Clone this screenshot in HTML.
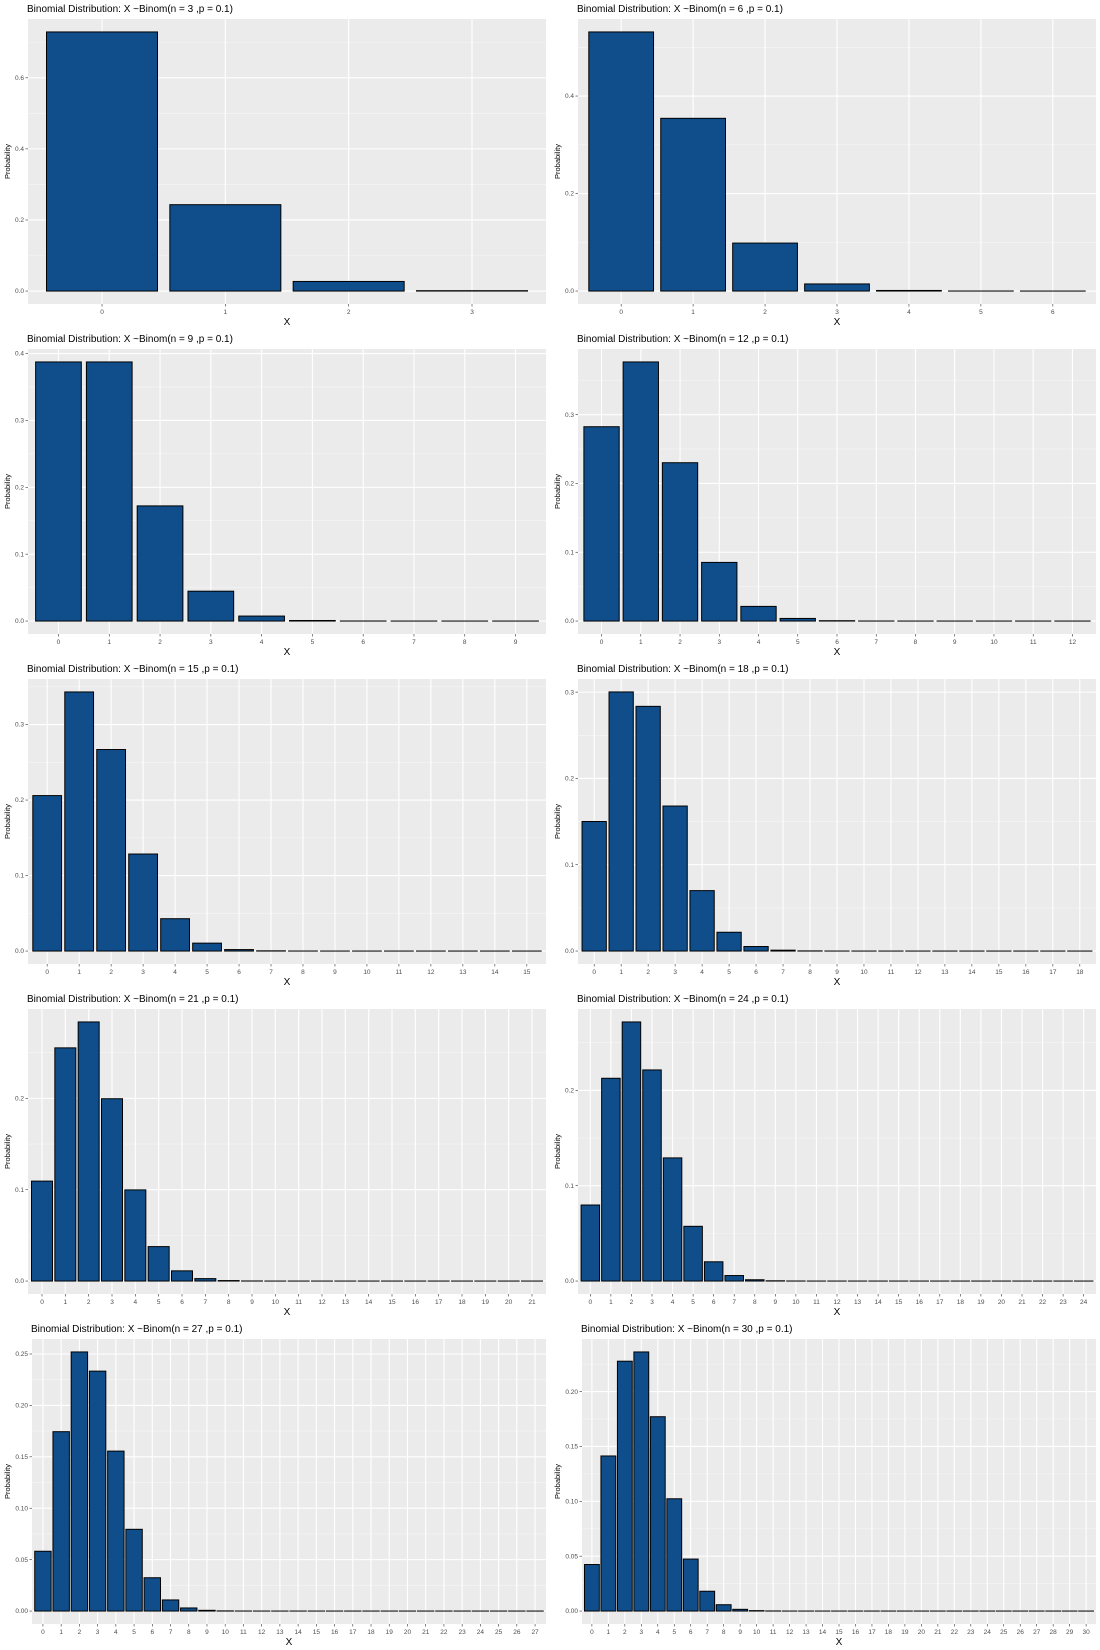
<!DOCTYPE html>
<html><head><meta charset="utf-8"><style>
html,body{margin:0;padding:0;background:#fff;}
svg{display:block;font-family:"Liberation Sans",sans-serif;}
</style></head><body>
<svg id="root" width="1100" height="1650" viewBox="0 0 1100 1650" xmlns="http://www.w3.org/2000/svg"></svg>
<script>
const nValues = [3, 6, 9, 12, 15, 18, 21, 24, 27, 30];
const p3 = [0.729, 0.243, 0.027, 0.001];
const p6 = [0.531441, 0.354294, 0.098415, 0.01458, 0.001215, 0.000054, 0.000001];
const p9 = [0.387420, 0.387420, 0.172187, 0.044641, 0.007440, 0.000827, 0.0000612, 0, 0, 0];
const p12 = [0.282430, 0.376573, 0.230128, 0.085232, 0.021308, 0.003788, 0.000491, 0.0000468, 0, 0, 0, 0, 0];
const p15 = [0.205891, 0.343152, 0.266896, 0.128505, 0.042835, 0.010471, 0.001939, 0.000277, 0.0000308, 0, 0, 0, 0, 0, 0, 0];
const p18 = [0.150095, 0.300189, 0.283512, 0.168007, 0.070003, 0.021779, 0.005243, 0.000999, 0.000153, 0.0000188, 0, 0, 0, 0, 0, 0, 0, 0, 0];
const p21 = [0.109419, 0.255311, 0.283680, 0.199627, 0.099813, 0.037707, 0.011172, 0.002660, 0.000517, 0.0000830, 0, 0, 0, 0, 0, 0, 0, 0, 0, 0, 0, 0];
const p24 = [0.079766, 0.212711, 0.271797, 0.221464, 0.129188, 0.057417, 0.020202, 0.005772, 0.001363, 0.000269, 0.0000449, 0, 0, 0, 0, 0, 0, 0, 0, 0, 0, 0, 0, 0, 0];
const p27 = [0.058150, 0.174450, 0.251983, 0.233316, 0.155544, 0.079500, 0.032389, 0.010796, 0.002999, 0.000703, 0.000141, 0.0000242, 0, 0, 0, 0, 0, 0, 0, 0, 0, 0, 0, 0, 0, 0, 0, 0];
const p30 = [0.042391, 0.141304, 0.227656, 0.236088, 0.177066, 0.102305, 0.047363, 0.018043, 0.005764, 0.001565, 0.000365, 0.0000738, 0, 0, 0, 0, 0, 0, 0, 0, 0, 0, 0, 0, 0, 0, 0, 0, 0, 0, 0];
const tick01 = ["0.0", "0.2", "0.4", "0.6"];
const tick02 = ["0.0", "0.2", "0.4"];
const tick03 = ["0.0", "0.1", "0.2", "0.3", "0.4"];
const tick04 = ["0.0", "0.1", "0.2", "0.3"];
const tick05 = ["0.0", "0.1", "0.2"];
const tick06 = ["0.00", "0.05", "0.10", "0.15", "0.20", "0.25"];
const tick07 = ["0.00", "0.05", "0.10", "0.15", "0.20"];

const probs = [p3, p6, p9, p12, p15, p18, p21, p24, p27, p30];
const ticks = [tick01, tick02, tick03, tick04, tick04, tick04, tick05, tick05, tick06, tick07];

const NS = "http://www.w3.org/2000/svg";
const root = document.getElementById('root');
function mk(tag, attrs, parent) {
  const e = document.createElementNS(NS, tag);
  for (const k in attrs) e.setAttribute(k, attrs[k]);
  parent.appendChild(e);
  return e;
}

nValues.forEach((n, idx) => {
  const data = probs[idx];
  const tk = ticks[idx];
  const col = idx % 2, row = Math.floor(idx / 2);
  const x0 = col * 550, y0 = row * 330;
  const wide = tk[0].length > 3;
  const L = x0 + (wide ? 32 : 28), R = x0 + 546, T = y0 + 19, B = y0 + 304;
  const g = mk('g', {}, root);
  
  

  const maxV = Math.max(...data);
  const lo = -0.05 * maxV, hi = 1.05 * maxV;
  const ys = v => B - (v - lo) / (hi - lo) * (B - T);
  const k = data.length;
  const xs = i => L + (i + 1 - 0.4) / (k + 0.2) * (R - L);
  const unit = (R - L) / (k + 0.2);

  const bg = mk('rect', {x: L, y: T, width: R - L, height: B - T, fill: '#EBEBEB'}, g);
  
  

  const step = parseFloat(tk[1]) - parseFloat(tk[0]);
  for (let j = 0; j < tk.length; j++) {
    const v = parseFloat(tk[j]) + step / 2;
    const yy = ys(v);
    if (yy > T) mk('line', {x1: L, x2: R, y1: yy, y2: yy, stroke: '#F6F6F6', 'stroke-width': 0.6}, g);
  }
  tk.forEach(t => {
    const yy = ys(parseFloat(t));
    const gl = mk('line', {x1: L, x2: R, y1: yy, y2: yy, stroke: '#fff', 'stroke-width': 1.1}, g);
    
    
    mk('line', {x1: L - 2.5, x2: L, y1: yy, y2: yy, stroke: '#333', 'stroke-width': 0.6}, g);
    const tl = mk('text', {x: L - 4, y: yy + 2.2, 'font-size': 6.5, fill: '#4D4D4D', 'text-anchor': 'end'}, g);
    tl.textContent = t;
    
    
  });
  for (let i = 0; i < k; i++) {
    const cx = xs(i);
    mk('line', {x1: cx, x2: cx, y1: T, y2: B, stroke: '#fff', 'stroke-width': 1.1}, g);
    mk('line', {x1: cx, x2: cx, y1: B, y2: B + 2.5, stroke: '#333', 'stroke-width': 0.6}, g);
    const xl = mk('text', {x: cx, y: B + 10, 'font-size': 6.5, fill: '#4D4D4D', 'text-anchor': 'middle'}, g);
    xl.textContent = String(i);
    
    
  }
  data.forEach((v, i) => {
    const cx = xs(i), w = unit * 0.9;
    const y1 = ys(v), y2 = ys(0);
    const bar = mk('rect', {x: cx - w / 2, y: y1, width: w, height: Math.max(y2 - y1, 0.01), fill: '#104E8B', stroke: '#000', 'stroke-width': 1}, g);
    
    
  });

  const title = mk('text', {x: L - 1, y: y0 + 12, 'font-size': 10, fill: '#000'}, g);
  title.textContent = 'Binomial Distribution: X ~Binom(n = ' + n + ' ,p = 0.1)';
  
  

  const xt = mk('text', {x: (L + R) / 2, y: B + 21, 'font-size': 10, fill: '#000', 'text-anchor': 'middle'}, g);
  xt.textContent = 'X';
  
  

  const cy = (T + B) / 2;
  const yt = mk('text', {x: x0 + 10, y: cy, 'font-size': 7.5, fill: '#000', 'text-anchor': 'middle', transform: 'rotate(-90 ' + (x0 + 10) + ' ' + cy + ')'}, g);
  yt.textContent = 'Probability';
  
  
});
</script>
</body></html>
